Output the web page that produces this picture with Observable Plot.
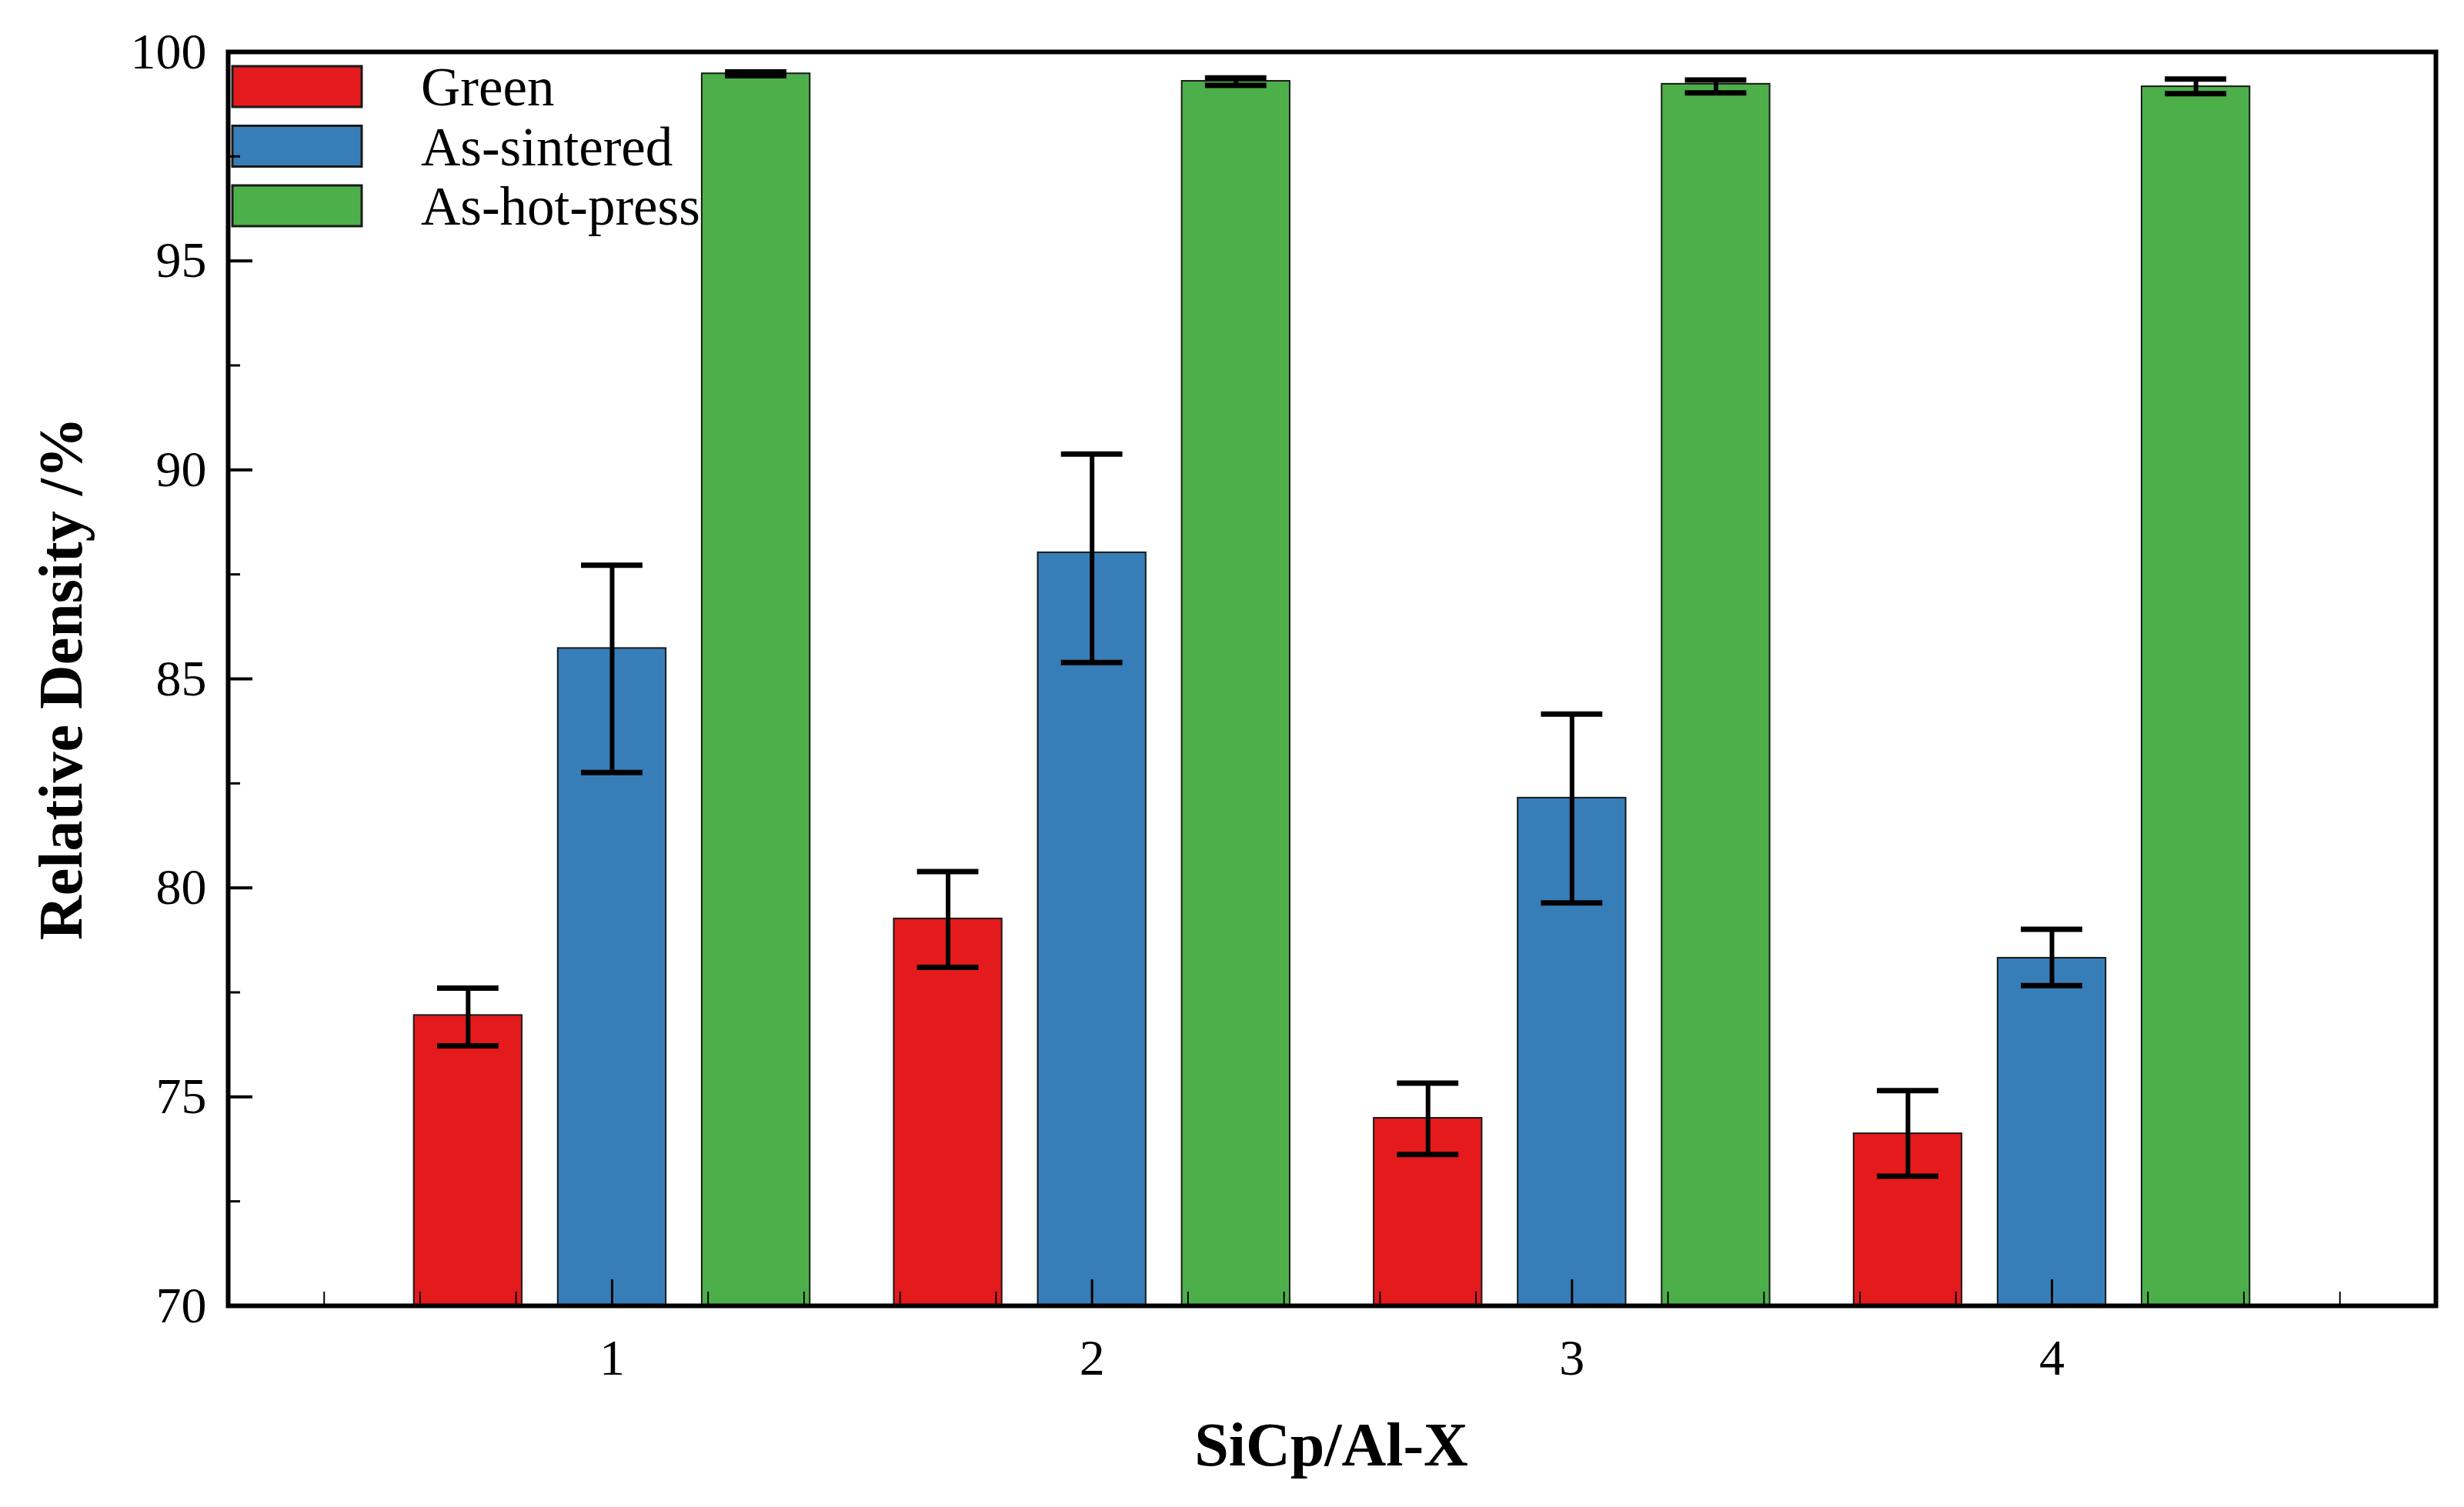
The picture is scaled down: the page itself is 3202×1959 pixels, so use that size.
<!DOCTYPE html>
<html>
<head>
<meta charset="utf-8">
<script src="https://cdn.jsdelivr.net/npm/d3@7"></script>
<script src="https://cdn.jsdelivr.net/npm/@observablehq/plot@0.6"></script>
<style>
  body { margin: 0; background: white; }
  #grafico { width: 3202px; height: 1959px; }
</style>
</head>
<body>
<div id="grafico"></div>
<script>
// datos
const muestras = [1, 2, 3, 4]
const estados = ["Green", "As-sintered", "As-hot-press"]

const valorGreen = [76.95, 79.26, 74.49, 74.12]
const bajoGreen = [76.22, 78.10, 73.62, 73.10]
const altoGreen = [77.60, 80.39, 75.33, 75.15]

const valorSintered = [85.73, 88.02, 82.15, 78.32]
const bajoSintered = [82.76, 85.39, 79.64, 77.66]
const altoSintered = [87.72, 90.38, 84.16, 79.01]

const valorHotPress = [99.48, 99.30, 99.23, 99.17]
const bajoHotPress = [99.43, 99.20, 99.02, 99.00]
const altoHotPress = [99.52, 99.38, 99.33, 99.35]

const yTicks = [70, 75, 80, 85, 90, 95, 100]
const yMenores = [72.5, 77.5, 82.5, 87.5, 92.5, 97.5]
const xMenores = [0.4, 0.6, 0.8, 1.2, 1.4, 1.6, 1.8, 2.2, 2.4, 2.6, 2.8, 3.2, 3.4, 3.6, 3.8, 4.2, 4.4, 4.6]

const colores = ["#e41a1c", "#377eb8", "#4daf4a"]
const desplazamiento = [-0.3, 0, 0.3]
const ancho = 0.225
const tapa = 0.064

createChart()

function createChart() {
    let valores = [valorGreen, valorSintered, valorHotPress]
    let bajos = [bajoGreen, bajoSintered, bajoHotPress]
    let altos = [altoGreen, altoSintered, altoHotPress]

    let tabla = []
    estados.forEach((estado, s) => {
        muestras.forEach((m, i) => {
            tabla.push({
                muestra: m,
                estado: estado,
                valor: valores[s][i],
                bajo: bajos[s][i],
                alto: altos[s][i],
                centro: m + desplazamiento[s]
            })
        })
    })

    let chart = Plot.plot({
        width: 3202,
        height: 1959,
        marginLeft: 296,
        marginRight: 37,
        marginTop: 67,
        marginBottom: 262,
        style: {fontFamily: "'Liberation Serif', serif", fontSize: "66px", color: "black", background: "white"},
        x: {domain: [0.2, 4.8], axis: null},
        y: {domain: [70, 100], axis: null},
        color: {domain: estados, range: colores},
        marks: [
            Plot.rect(tabla, {
                x1: d => d.centro - ancho / 2,
                x2: d => d.centro + ancho / 2,
                y1: 70,
                y2: "valor",
                fill: "estado",
                stroke: "#1a1a1a",
                strokeWidth: 2
            }),
            // barras de error
            Plot.ruleX(tabla, {x: "centro", y1: "bajo", y2: "alto", stroke: "black", strokeWidth: 6}),
            Plot.ruleY(tabla, {y: "alto", x1: d => d.centro - tapa, x2: d => d.centro + tapa, stroke: "black", strokeWidth: 7}),
            Plot.ruleY(tabla, {y: "bajo", x1: d => d.centro - tapa, x2: d => d.centro + tapa, stroke: "black", strokeWidth: 7}),
            // ejes con ticks hacia adentro
            Plot.axisY(yTicks, {anchor: "left", tickSize: -32, tickPadding: 60, strokeWidth: 4, tickFormat: d => String(d), label: null}),
            Plot.axisY(yMenores, {anchor: "left", tickSize: -16, strokeWidth: 3, tickFormat: () => "", label: null}),
            Plot.axisX(muestras, {anchor: "bottom", tickSize: -34, tickPadding: 77, strokeWidth: 3, tickFormat: d => String(d), label: null}),
            Plot.axisX(xMenores, {anchor: "bottom", tickSize: -18, strokeWidth: 2, tickFormat: () => "", label: null}),
            Plot.frame({stroke: "black", strokeWidth: 6})
        ]
    })

    let svg = d3.select(chart)

    // leyenda, debajo de las barras
    let primero = svg.select("g[aria-label='rect']").node()
    let leyenda = svg.insert("g", () => primero)
    estados.forEach((estado, s) => {
        let y0 = 86 + s * 77.5
        leyenda.append("rect")
            .attr("x", 302).attr("y", y0)
            .attr("width", 168).attr("height", 53)
            .attr("fill", colores[s])
            .attr("stroke", "#1a1a1a").attr("stroke-width", 3)
        leyenda.append("text")
            .attr("x", 547).attr("y", y0 + 26.5)
            .attr("dy", "0.35em")
            .attr("text-anchor", "start")
            .attr("font-size", 71)
            .attr("fill", "black")
            .text(estado)
    })

    // titulos de los ejes
    svg.append("text")
        .attr("transform", "translate(78,882) rotate(-90)")
        .attr("text-anchor", "middle")
        .attr("dy", "0.35em")
        .attr("font-weight", "bold")
        .attr("font-size", 80)
        .attr("fill", "black")
        .text("Relative Density /%")

    svg.append("text")
        .attr("x", 1730).attr("y", 1905)
        .attr("text-anchor", "middle")
        .attr("font-weight", "bold")
        .attr("font-size", 80)
        .attr("fill", "black")
        .text("SiCp/Al-X")

    d3.select('#grafico svg').remove()
    d3.select('#grafico').append(() => chart)
}
</script>
</body>
</html>
